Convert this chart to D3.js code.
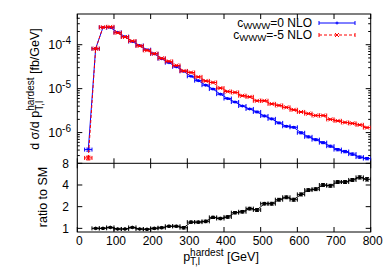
<!DOCTYPE html>
<html>
<head>
<meta charset="utf-8">
<script src="https://cdn.jsdelivr.net/npm/d3@7"></script>
<style>
  html, body { margin: 0; padding: 0; background: #fff; }
  svg { display: block; font-family: "Liberation Sans", Arial, sans-serif; }
</style>
</head>
<body>
<svg id="chart" width="390" height="273"></svg>
<script>
// bin centres (20 GeV bins)
const binCentres = [30, 50, 70, 90, 110, 130, 150, 170, 190, 210, 230, 250, 270, 290, 310, 330, 350, 370, 390,
  410, 430, 450, 470, 490, 510, 530, 550, 570, 590, 610, 630, 650, 670, 690, 710, 730, 750, 770, 790];
const binHalf = 10;

// c_WWW = 0 NLO  [fb/GeV]
const smValues = [4.1e-7, 8.1e-5, 2.48e-4, 2.46e-4, 1.91e-4, 1.53e-4, 1.18e-4, 9.6e-5, 7.7e-5, 6.2e-5, 4.8e-5, 3.9e-5, 3.14e-5,
  2.48e-5, 1.91e-5, 1.52e-5, 1.2e-5, 9.8e-6, 7.5e-6, 5.95e-6, 4.96e-6, 4.03e-6, 3.45e-6, 2.95e-6, 2.39e-6, 2.05e-6,
  1.66e-6, 1.39e-6, 1.32e-6, 9.9e-7, 8.0e-7, 6.9e-7, 5.9e-7, 4.9e-7, 4.1e-7, 3.7e-7, 3.24e-7, 2.77e-7, 2.56e-7];
const smErr = [0.08, 0.03, 0.02, 0.02, 0.02, 0.02, 0.02, 0.02, 0.02, 0.02, 0.02, 0.02, 0.02,
  0.02, 0.02, 0.03, 0.03, 0.03, 0.03, 0.03, 0.03, 0.03, 0.03, 0.04, 0.04, 0.04,
  0.04, 0.04, 0.04, 0.05, 0.05, 0.05, 0.05, 0.05, 0.06, 0.06, 0.06, 0.06, 0.06];

// c_WWW = -5 NLO  [fb/GeV]
const bsmValues = [2.65e-7, 8.1e-5, 2.5e-4, 2.55e-4, 1.87e-4, 1.5e-4, 1.21e-4, 9.4e-5, 7.45e-5, 6.25e-5, 4.9e-5, 4.17e-5, 3.36e-5,
  2.53e-5, 2.33e-5, 1.85e-5, 1.5e-5, 1.38e-5, 1.03e-5, 8.6e-6, 8.2e-6, 6.9e-6, 6.5e-6, 5.3e-6, 5.3e-6, 4.5e-6,
  4.15e-6, 3.75e-6, 3.3e-6, 2.95e-6, 2.7e-6, 2.45e-6, 2.45e-6, 2.0e-6, 1.85e-6, 1.7e-6, 1.62e-6, 1.5e-6, 1.3e-6];
const bsmErr = [0.1, 0.03, 0.02, 0.02, 0.02, 0.02, 0.02, 0.02, 0.02, 0.02, 0.02, 0.02, 0.02,
  0.02, 0.02, 0.02, 0.02, 0.02, 0.02, 0.02, 0.02, 0.02, 0.02, 0.02, 0.02, 0.02,
  0.02, 0.02, 0.02, 0.02, 0.02, 0.02, 0.02, 0.02, 0.02, 0.02, 0.02, 0.02, 0.02];

// ratio to SM (bins 50..790)
const ratioCentres = binCentres.slice(1);
const ratioValues = [1.0, 1.0, 1.03, 0.98, 0.98, 1.03, 0.98, 0.97, 1.0, 1.02, 1.07, 1.07, 1.02,
  1.22, 1.22, 1.25, 1.42, 1.37, 1.44, 1.65, 1.7, 1.88, 1.8, 2.2, 2.2, 2.5, 2.7, 2.5,
  2.96, 3.4, 3.5, 4.0, 3.9, 4.4, 4.4, 4.7, 5.1, 4.8];
const ratioErr = [0.02, 0.02, 0.02, 0.02, 0.02, 0.02, 0.02, 0.02, 0.03, 0.03, 0.03, 0.03, 0.04,
  0.04, 0.04, 0.05, 0.05, 0.05, 0.06, 0.06, 0.07, 0.08, 0.08, 0.09, 0.1, 0.11, 0.12, 0.12,
  0.14, 0.15, 0.16, 0.18, 0.18, 0.2, 0.2, 0.22, 0.26, 0.26];

const xTicks = [0, 100, 200, 300, 400, 500, 600, 700, 800];
const yTopMajor = [1e-6, 1e-5, 1e-4];
const yTopLabels = ['-6', '-5', '-4'];
const yBotTicks = [1, 2, 4, 8];

const svg = d3.select('#chart');
const pLeft = 77.3, pRight = 370.7, pTop = 14, pMid = 163.3, pBottom = 232;

const x = d3.scaleLinear().domain([0, 800]).range([pLeft, pRight]);
const yTop = d3.scaleLog().domain([2e-7, 5e-4]).range([pMid, pTop]);
const yBot = d3.scaleLog().domain([0.89, 8]).range([pBottom, pMid]);

const defs = svg.append('defs');
defs.append('clipPath').attr('id', 'clipTop').append('rect')
  .attr('x', pLeft).attr('y', pTop).attr('width', pRight - pLeft).attr('height', pMid - pTop);
defs.append('clipPath').attr('id', 'clipBot').append('rect')
  .attr('x', pLeft).attr('y', pMid).attr('width', pRight - pLeft).attr('height', pBottom - pMid);

// rich text: parts = [[text, 'n'|'sub'|'sup'|'stack']]  ('stack' = superscript over previous sub)
function richText(g, parts, size, subShift = 0.3) {
  const t = g.append('text').attr('font-size', size);
  let shift = 0;
  let lastSub = null;
  parts.forEach(([str, kind]) => {
    const sp = t.append('tspan').text(str);
    let target = 0;
    if (kind === 'sub') { sp.attr('font-size', size * 0.8); target = size * subShift; }
    if (kind === 'sup' || kind === 'stack') { sp.attr('font-size', size * 0.8); target = -size * 0.42; }
    sp.attr('dy', target - shift);
    shift = target;
    if (kind === 'stack' && lastSub) {
      sp.attr('dx', -lastSub.node().getComputedTextLength());
    }
    lastSub = kind === 'sub' ? sp : null;
  });
  return t;
}

// ---- frame & ticks
const axes = svg.append('g').attr('stroke', '#000').attr('stroke-width', 1).attr('fill', 'none');
axes.append('rect').attr('x', pLeft).attr('y', pTop).attr('width', pRight - pLeft).attr('height', pBottom - pTop);
axes.append('line').attr('x1', pLeft).attr('x2', pRight).attr('y1', pMid).attr('y2', pMid);

const majLen = 5, minLen = 2.5;
xTicks.forEach(v => {
  const px = x(v);
  [[pTop, 1], [pMid, -1], [pMid, 1], [pBottom, -1]].forEach(([y0, dir]) => {
    axes.append('line').attr('x1', px).attr('x2', px).attr('y1', y0).attr('y2', y0 + dir * majLen);
  });
});

// log ticks upper panel
const topMinor = [];
for (let e = -7; e <= -4; e++) {
  for (let k = 2; k <= 9; k++) {
    const v = k * Math.pow(10, e);
    if (v > 2e-7 && v < 5e-4) topMinor.push(v);
  }
}
topMinor.forEach(v => {
  const py = yTop(v);
  axes.append('line').attr('x1', pLeft).attr('x2', pLeft + minLen).attr('y1', py).attr('y2', py);
  axes.append('line').attr('x1', pRight).attr('x2', pRight - minLen).attr('y1', py).attr('y2', py);
});
yTopMajor.forEach(v => {
  const py = yTop(v);
  axes.append('line').attr('x1', pLeft).attr('x2', pLeft + majLen).attr('y1', py).attr('y2', py);
  axes.append('line').attr('x1', pRight).attr('x2', pRight - majLen).attr('y1', py).attr('y2', py);
});
yBotTicks.forEach(v => {
  const py = yBot(v);
  axes.append('line').attr('x1', pLeft).attr('x2', pLeft + majLen).attr('y1', py).attr('y2', py);
  axes.append('line').attr('x1', pRight).attr('x2', pRight - majLen).attr('y1', py).attr('y2', py);
});

// ---- tick labels
const labels = svg.append('g').attr('fill', '#000');
xTicks.forEach(v => {
  labels.append('text').attr('x', x(v) + 2).attr('y', 244.5).attr('text-anchor', 'middle')
    .attr('font-size', 12).text(v);
});
yTopMajor.forEach((v, i) => {
  const g = labels.append('g').attr('transform', `translate(71,${yTop(v) + 4.5})`);
  richText(g, [['10', 'n'], [yTopLabels[i], 'sup']], 12.5).attr('text-anchor', 'end');
});
yBotTicks.forEach(v => {
  labels.append('text').attr('x', 69).attr('y', yBot(v) + 4.3).attr('text-anchor', 'end')
    .attr('font-size', 12).text(v);
});

// ---- axis titles
const yt = labels.append('g').attr('transform', 'translate(39,89) rotate(-90)');
richText(yt, [['d σ/d p', 'n'], ['T,l', 'sub'], ['hardest', 'stack'], [' [fb/GeV]', 'n']], 12.5)
  .attr('text-anchor', 'middle');
labels.append('text').attr('transform', 'translate(47,197) rotate(-90)').attr('text-anchor', 'middle')
  .attr('font-size', 12.5).text('ratio to SM');
const xt = labels.append('g').attr('transform', 'translate(221,261)');
richText(xt, [['p', 'n'], ['T,l', 'sub'], ['hardest', 'stack'], [' [GeV]', 'n']], 12.5)
  .attr('text-anchor', 'middle');

// ---- series drawing
function drawSeries(g, xs, ys, errs, yScale, color, dash, marker, absErr) {
  const line = d3.line().x((d, i) => x(xs[i])).y(d => yScale(d));
  g.append('path').datum(ys).attr('d', line).attr('fill', 'none')
    .attr('stroke', color).attr('stroke-width', 1).attr('stroke-dasharray', dash);
  const eb = g.append('g').attr('stroke', color).attr('stroke-width', 1).attr('fill', 'none');
  ys.forEach((v, i) => {
    const px = x(xs[i]), py = yScale(v);
    const x0 = x(xs[i] - binHalf), x1 = x(xs[i] + binHalf);
    const lo = absErr ? v - errs[i] : v * (1 - errs[i]);
    const hi = absErr ? v + errs[i] : v * (1 + errs[i]);
    const y0 = yScale(lo), y1 = yScale(hi);
    eb.append('line').attr('x1', x0).attr('x2', x1).attr('y1', py).attr('y2', py);
    eb.append('line').attr('x1', x0).attr('x2', x0).attr('y1', py - 2).attr('y2', py + 2);
    eb.append('line').attr('x1', x1).attr('x2', x1).attr('y1', py - 2).attr('y2', py + 2);
    eb.append('line').attr('x1', px).attr('x2', px).attr('y1', y0).attr('y2', y1);
    eb.append('line').attr('x1', px - 2).attr('x2', px + 2).attr('y1', y0).attr('y2', y0);
    eb.append('line').attr('x1', px - 2).attr('x2', px + 2).attr('y1', y1).attr('y2', y1);
    marker(eb, px, py);
  });
}
const plus = (g, px, py) => {
  g.append('line').attr('x1', px - 1.5).attr('x2', px + 1.5).attr('y1', py).attr('y2', py);
  g.append('line').attr('x1', px).attr('x2', px).attr('y1', py - 1.5).attr('y2', py + 1.5);
};
const cross = (g, px, py) => {
  g.append('line').attr('x1', px - 2).attr('x2', px + 2).attr('y1', py - 2).attr('y2', py + 2);
  g.append('line').attr('x1', px - 2).attr('x2', px + 2).attr('y1', py + 2).attr('y2', py - 2);
};
const dot = (g, px, py) => {
  g.append('circle').attr('cx', px).attr('cy', py).attr('r', 1.3).attr('fill', '#000');
};

const gTop = svg.append('g').attr('clip-path', 'url(#clipTop)');
drawSeries(gTop, binCentres, smValues, smErr, yTop, '#0000ff', null, plus, false);
drawSeries(gTop, binCentres, bsmValues, bsmErr, yTop, '#ff0000', '3,2', cross, false);

const gBot = svg.append('g').attr('clip-path', 'url(#clipBot)');
drawSeries(gBot, ratioCentres, ratioValues, ratioErr, yBot, '#000', null, dot, true);

// ---- legend
const legendNames = [['=0 NLO', '#0000ff', null, plus], ['=-5 NLO', '#ff0000', '3,2', cross]];
legendNames.forEach(([suffix, color, dash, marker], i) => {
  const ly = 23 + i * 12;
  const g = svg.append('g').attr('transform', `translate(312,${ly + 4})`);
  richText(g, [['c', 'n'], ['WWW', 'sub'], [suffix, 'n']], 12, 0.2).attr('text-anchor', 'end');
  const lg = svg.append('g').attr('stroke', color).attr('stroke-width', 1);
  lg.append('line').attr('x1', 319).attr('x2', 355).attr('y1', ly).attr('y2', ly).attr('stroke-dasharray', dash);
  lg.append('line').attr('x1', 319).attr('x2', 319).attr('y1', ly - 2).attr('y2', ly + 2);
  lg.append('line').attr('x1', 355).attr('x2', 355).attr('y1', ly - 2).attr('y2', ly + 2);
  marker(lg, 337, ly);
});
</script>
</body>
</html>
